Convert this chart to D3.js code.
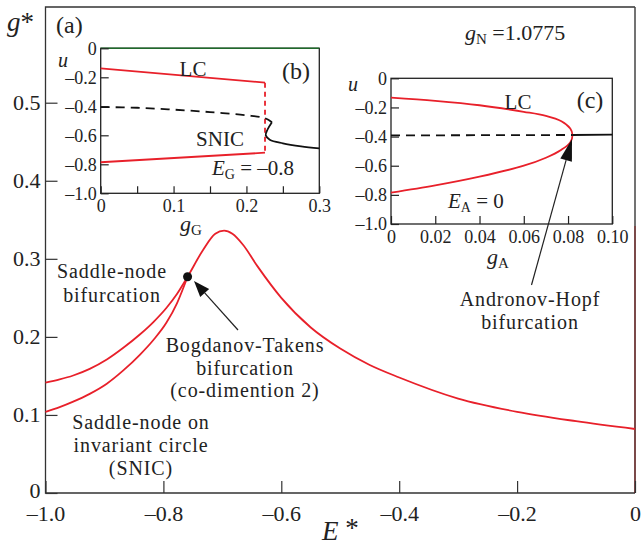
<!DOCTYPE html>
<html>
<head>
<meta charset="utf-8">
<script src="https://cdn.jsdelivr.net/npm/d3@7"></script>
<style>
body { margin: 0; background: #fff; }
svg text { font-family: "Liberation Serif", "Times New Roman", Times, "DejaVu Serif", serif; fill: #222; }
</style>
</head>
<body>
<svg width="644" height="550"></svg>
<script>
// main diagram: g* vs E*
const xTicks = [-1.0, -0.8, -0.6, -0.4, -0.2, 0]
const xTickLabels = ["–1.0", "–0.8", "–0.6", "–0.4", "–0.2", "0"]
const yTicks = [0, 0.1, 0.2, 0.3, 0.4, 0.5]
const yTickLabels = ["0", "0.1", "0.2", "0.3", "0.4", "0.5"]

// saddle-node curve (upper-left branch, through BT point, peak and decay)
const snE = [-1.0, -0.976, -0.953, -0.925, -0.896, -0.868, -0.84, -0.817, -0.795, -0.777, -0.759, -0.733, -0.712, -0.697, -0.683, -0.665, -0.64, -0.60, -0.55, -0.50, -0.45, -0.40, -0.30, -0.20, -0.10, 0]
const snG = [0.1414, 0.1455, 0.1505, 0.159, 0.171, 0.186, 0.203, 0.219, 0.237, 0.255, 0.277, 0.311, 0.332, 0.336, 0.332, 0.318, 0.290, 0.250, 0.212, 0.185, 0.164, 0.148, 0.121, 0.104, 0.092, 0.082]
// SNIC curve (lower-left branch up to BT point)
const snicE = [-1.0, -0.976, -0.953, -0.925, -0.896, -0.868, -0.84, -0.817, -0.795, -0.777, -0.759]
const snicG = [0.104, 0.110, 0.117, 0.127, 0.140, 0.157, 0.177, 0.196, 0.218, 0.243, 0.277]
const btPoint = [-0.759, 0.277]

// inset (b): E_G = -0.8
const bxTicks = [0, 0.05, 0.1, 0.15, 0.2, 0.25, 0.3]
const bxLabels = { 0: "0", 0.1: "0.1", 0.2: "0.2", 0.3: "0.3" }
const uTicks = [0, -0.2, -0.4, -0.6, -0.8, -1.0]
const uTickLabels = ["0", "–0.2", "–0.4", "–0.6", "–0.8", "–1.0"]
const bLcUpper = [[0, -0.138], [0.2255, -0.237]]
const bLcLower = [[0, -0.786], [0.2255, -0.72]]
const bLcJump = [[0.2255, -0.237], [0.2255, -0.72]]
const bUnstable = [[0, -0.405], [0.05, -0.41], [0.1, -0.423], [0.15, -0.44], [0.2, -0.462], [0.2255, -0.482], [0.235, -0.51]]
const bStable = [[0.235, -0.51], [0.229, -0.56], [0.2265, -0.6], [0.232, -0.63], [0.25, -0.655], [0.275, -0.676], [0.3, -0.69]]

// inset (c): E_A = 0
const cxTicks = [0, 0.02, 0.04, 0.06, 0.08, 0.10]
const cxLabels = ["0", "0.02", "0.04", "0.06", "0.08", "0.10"]
const cLc = [[0, -0.133], [0.02, -0.155], [0.04, -0.185], [0.06, -0.23], [0.07, -0.258], [0.077, -0.295], [0.081, -0.345], [0.082, -0.389],
             [0.081, -0.44], [0.077, -0.49], [0.07, -0.545], [0.06, -0.6], [0.04, -0.675], [0.02, -0.735], [0, -0.785]]
const cUnstable = [[0, -0.392], [0.082, -0.389]]
const cStable = [[0.082, -0.389], [0.1, -0.386]]

const RED = "#e8202a"
const svg = d3.select("svg")

const x = d3.scaleLinear().domain([-1, 0]).range([45.5, 635])
const y = d3.scaleLinear().domain([0, 0.6226]).range([493, 7])

// frame
svg.append("path")
    .attr("d", "M" + x(0) + "," + y(0.6226) + "H" + x(-1) + "V" + y(0) + "H" + x(0))
    .attr("fill", "none").attr("stroke", "#333").attr("stroke-width", 1.3)
svg.append("line").attr("x1", x(0)).attr("x2", x(0)).attr("y1", 7).attr("y2", 226)
    .attr("stroke", "#444").attr("stroke-width", 1.5)
svg.append("line").attr("x1", x(0)).attr("x2", x(0)).attr("y1", 226).attr("y2", 493)
    .attr("stroke", "#5a1c1c").attr("stroke-width", 1.6)

const xAxis = svg.append("g")
    .attr("transform", "translate(0," + y(0) + ")")
    .call(d3.axisBottom(x).tickValues(xTicks).tickSize(-12).tickPadding(12)
        .tickFormat((d, i) => xTickLabels[i]))
const yAxis = svg.append("g")
    .attr("transform", "translate(" + x(-1) + ",0)")
    .call(d3.axisLeft(y).tickValues(yTicks).tickSize(-12).tickPadding(5)
        .tickFormat((d, i) => yTickLabels[i]))
for (const ax of [xAxis, yAxis]) {
    ax.attr("font-family", null)
    ax.select(".domain").remove()
    ax.selectAll("line").attr("stroke", "#333").attr("stroke-width", 1.2)
    ax.selectAll("text").attr("font-size", 22).attr("fill", "#222")
}
yAxis.selectAll(".tick").filter(d => d === 0).select("text").attr("dy", "0.2em")

const mainLine = d3.line().x(d => x(d[0])).y(d => y(d[1])).curve(d3.curveMonotoneX)
svg.append("path").datum(snE.map((e, i) => [e, snG[i]]))
    .attr("d", mainLine).attr("fill", "none").attr("stroke", RED).attr("stroke-width", 1.8)
svg.append("path").datum(snicE.map((e, i) => [e, snicG[i]]))
    .attr("d", mainLine).attr("fill", "none").attr("stroke", RED).attr("stroke-width", 1.8)
svg.append("circle").attr("cx", x(btPoint[0])).attr("cy", y(btPoint[1])).attr("r", 4.5).attr("fill", "#111")

function arrow(x1, y1, x2, y2, len, half) {
    const a = Math.atan2(y2 - y1, x2 - x1)
    const bx = x2 - len * Math.cos(a), by = y2 - len * Math.sin(a)
    svg.append("line").attr("x1", x1).attr("y1", y1).attr("x2", bx).attr("y2", by)
        .attr("stroke", "#222").attr("stroke-width", 1.2)
    const p = [[x2, y2],
        [bx + half * Math.sin(a), by - half * Math.cos(a)],
        [bx - half * Math.sin(a), by + half * Math.cos(a)]]
    svg.append("polygon").attr("points", p.map(q => q.join(",")).join(" ")).attr("fill", "#111")
}

function label(txt, px, py, size, anchor, italic) {
    return svg.append("text").attr("x", px).attr("y", py).attr("font-size", size)
        .attr("text-anchor", anchor || "start").attr("font-style", italic ? "italic" : null).text(txt)
}
function note(lines, px, y0, step) {
    lines.forEach((t, i) => label(t, px, y0 + i * step, 20, "middle").attr("letter-spacing", 0.9))
}

// axis titles
const gs = svg.append("text").attr("x", 7).attr("y", 31).attr("font-size", 27)
gs.append("tspan").attr("font-style", "italic").text("g")
gs.append("tspan").text("*")
const es = svg.append("text").attr("x", 322).attr("y", 540).attr("font-size", 27)
es.append("tspan").attr("font-style", "italic").text("E")
es.append("tspan").attr("dy", -3).text(" *")

label("(a)", 56, 33, 24)
const gn = svg.append("text").attr("x", 465).attr("y", 40).attr("font-size", 22)
gn.append("tspan").attr("font-style", "italic").text("g")
gn.append("tspan").attr("font-size", 15).attr("dy", 4).text("N")
gn.append("tspan").attr("dy", -4).text(" =1.0775")

// annotations
note(["Saddle-node", "bifurcation"], 112, 278, 24)
note(["Bogdanov-Takens", "bifurcation", "(co-dimention 2)"], 245, 352, 22.6)
note(["Saddle-node on", "invariant circle", "(SNIC)"], 141, 429, 23)
note(["Andronov-Hopf", "bifurcation"], 530, 306, 22.6)
arrow(238, 330, 194, 281, 16, 6)

// inset (b)
const xb = d3.scaleLinear().domain([0, 0.3]).range([100.7, 319.3])
const yb = d3.scaleLinear().domain([-1, 0]).range([193.3, 48.3])
const gb = svg.append("g")
gb.append("rect").attr("x", xb(0)).attr("y", yb(0)).attr("width", xb(0.3) - xb(0)).attr("height", yb(-1) - yb(0))
    .attr("fill", "#fff").attr("stroke", "#222").attr("stroke-width", 1.3)
gb.append("line").attr("x1", xb(0)).attr("x2", xb(0.3)).attr("y1", yb(0)).attr("y2", yb(0))
    .attr("stroke", "#1f6a2a").attr("stroke-width", 1.5)
const bxAxis = gb.append("g").attr("transform", "translate(0," + yb(-1) + ")")
    .call(d3.axisBottom(xb).tickValues(bxTicks).tickSize(-7).tickPadding(6)
        .tickFormat(d => bxLabels[d] || ""))
const byAxis = gb.append("g").attr("transform", "translate(" + xb(0) + ",0)")
    .call(d3.axisLeft(yb).tickValues(uTicks).tickSize(-8).tickPadding(4)
        .tickFormat((d, i) => uTickLabels[i]))

const bLine = d3.line().x(d => xb(d[0])).y(d => yb(d[1]))
gb.append("path").datum(bLcUpper).attr("d", bLine).attr("fill", "none").attr("stroke", RED).attr("stroke-width", 1.8)
gb.append("path").datum(bLcLower).attr("d", bLine).attr("fill", "none").attr("stroke", RED).attr("stroke-width", 1.8)
gb.append("path").datum(bLcJump).attr("d", bLine).attr("fill", "none").attr("stroke", RED).attr("stroke-width", 1.8)
    .attr("stroke-dasharray", "5,4")
gb.append("path").datum(bUnstable).attr("d", bLine.curve(d3.curveCatmullRom)).attr("fill", "none")
    .attr("stroke", "#111").attr("stroke-width", 1.8).attr("stroke-dasharray", "9,6")
gb.append("path").datum(bStable).attr("d", bLine.curve(d3.curveCatmullRom)).attr("fill", "none")
    .attr("stroke", "#111").attr("stroke-width", 1.8)

label("LC", 193, 76, 21, "middle")
label("(b)", 296, 79, 24, "middle")
label("SNIC", 220, 146, 21, "middle")
const eg = svg.append("text").attr("x", 212).attr("y", 175).attr("font-size", 21)
eg.append("tspan").attr("font-style", "italic").text("E")
eg.append("tspan").attr("font-size", 14).attr("dy", 4).text("G")
eg.append("tspan").attr("dy", -4).text(" = –0.8")
label("u", 58, 67, 20, "start", true)
const ggl = svg.append("text").attr("x", 180).attr("y", 231).attr("font-size", 22)
ggl.append("tspan").attr("font-style", "italic").text("g")
ggl.append("tspan").attr("font-size", 15).attr("dy", 4).text("G")

// inset (c)
const xc = d3.scaleLinear().domain([0, 0.1]).range([391, 612.3])
const yc = d3.scaleLinear().domain([-1, 0]).range([224, 78.3])
const gc = svg.append("g")
gc.append("rect").attr("x", xc(0)).attr("y", yc(0)).attr("width", xc(0.1) - xc(0)).attr("height", yc(-1) - yc(0))
    .attr("fill", "#fff").attr("stroke", "#222").attr("stroke-width", 1.3)
const cxAxis = gc.append("g").attr("transform", "translate(0," + yc(-1) + ")")
    .call(d3.axisBottom(xc).tickValues(cxTicks).tickSize(-8).tickPadding(6)
        .tickFormat((d, i) => cxLabels[i]))
const cyAxis = gc.append("g").attr("transform", "translate(" + xc(0) + ",0)")
    .call(d3.axisLeft(yc).tickValues(uTicks).tickSize(-8).tickPadding(4)
        .tickFormat((d, i) => uTickLabels[i]))
for (const ax of [bxAxis, byAxis, cxAxis, cyAxis]) {
    ax.attr("font-family", null)
    ax.select(".domain").remove()
    ax.selectAll("line").attr("stroke", "#222").attr("stroke-width", 1.2)
    ax.selectAll("text").attr("font-size", 18).attr("fill", "#222")
}

const cLine = d3.line().x(d => xc(d[0])).y(d => yc(d[1]))
gc.append("path").datum(cLc).attr("d", cLine.curve(d3.curveCatmullRom)).attr("fill", "none")
    .attr("stroke", RED).attr("stroke-width", 1.8)
gc.append("path").datum(cUnstable).attr("d", cLine.curve(d3.curveLinear)).attr("fill", "none")
    .attr("stroke", "#111").attr("stroke-width", 1.8).attr("stroke-dasharray", "9,6")
gc.append("path").datum(cStable).attr("d", cLine).attr("fill", "none")
    .attr("stroke", "#111").attr("stroke-width", 1.8)

label("LC", 518, 109, 21, "middle")
label("(c)", 590, 108, 24, "middle")
const ea = svg.append("text").attr("x", 448).attr("y", 208).attr("font-size", 21)
ea.append("tspan").attr("font-style", "italic").text("E")
ea.append("tspan").attr("font-size", 14).attr("dy", 4).text("A")
ea.append("tspan").attr("dy", -4).text(" = 0")
label("u", 348, 91, 20, "start", true)
const gal = svg.append("text").attr("x", 487).attr("y", 264).attr("font-size", 22)
gal.append("tspan").attr("font-style", "italic").text("g")
gal.append("tspan").attr("font-size", 15).attr("dy", 4).text("A")

// arrow over inset (c) drawn last so it stays on top
arrow(531.5, 285, 572, 139, 22, 6)
</script>
</body>
</html>
